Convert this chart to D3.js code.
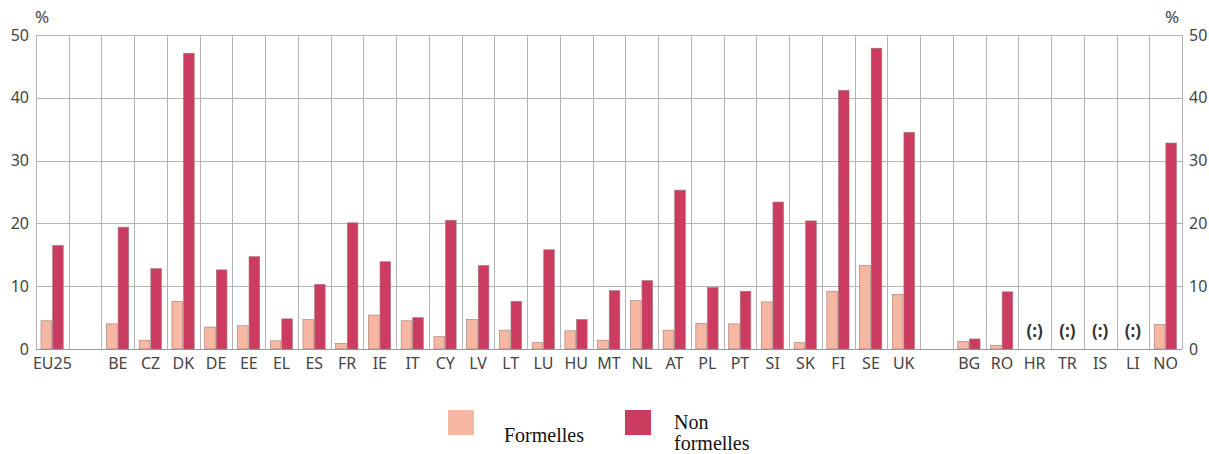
<!DOCTYPE html>
<html>
<head>
<meta charset="utf-8">
<script src="https://cdn.jsdelivr.net/npm/d3@7"></script>
<style>
  body { margin: 0; background: #fff; }
  svg { display: block; }
</style>
</head>
<body>
<div id="chart"></div>
<script>
// columns, with empty slots between the groups
var categories = ["EU25", "", "BE", "CZ", "DK", "DE", "EE", "EL", "ES", "FR", "IE", "IT", "CY", "LV", "LT", "LU",
                  "HU", "MT", "NL", "AT", "PL", "PT", "SI", "SK", "FI", "SE", "UK", " ",
                  "BG", "RO", "HR", "TR", "IS", "LI", "NO"];

var formelles = [4.5, null, 4.0, 1.4, 7.6, 3.5, 3.7, 1.3, 4.7, 0.9, 5.4, 4.5, 2.0, 4.7, 3.0, 1.0,
                 2.9, 1.4, 7.7, 3.0, 4.1, 4.0, 7.5, 1.0, 9.2, 13.3, 8.7, null,
                 1.2, 0.6, null, null, null, null, 3.9];

var nonFormelles = [16.5, null, 19.4, 12.8, 47.1, 12.6, 14.7, 4.8, 10.3, 20.1, 13.9, 5.0, 20.5, 13.3, 7.6, 15.8,
                    4.7, 9.3, 10.9, 25.3, 9.8, 9.2, 23.4, 20.4, 41.2, 47.9, 34.5, null,
                    1.6, 9.1, null, null, null, null, 32.8];

var missing = ["HR", "TR", "IS", "LI"];
var yTicks = [0, 10, 20, 30, 40, 50];

var series = [
  { name: "Formelles", values: formelles, color: "#f6b8a2" },
  { name: "Non formelles", values: nonFormelles, color: "#cc3c61" }
];

var width = 1209, height = 454;
var margin = { top: 35, right: 27, bottom: 105, left: 36 };

var svg = d3.select("#chart").append("svg")
  .attr("width", width)
  .attr("height", height);

var x = d3.scaleBand()
  .domain(d3.range(categories.length))
  .range([margin.left, width - margin.right]);

var xInner = d3.scaleBand()
  .domain(series.map(function (s) { return s.name; }))
  .range([5, x.bandwidth() - 5.5])
  .paddingInner(0.08);

var y = d3.scaleLinear()
  .domain([0, 50])
  .range([height - margin.bottom, margin.top]);

var grid = svg.append("g");

// horizontal grid
grid.selectAll("line.h")
  .data(yTicks)
  .enter().append("line")
  .attr("x1", margin.left)
  .attr("x2", width - margin.right)
  .attr("y1", function (d) { return Math.round(y(d)) + 0.5; })
  .attr("y2", function (d) { return Math.round(y(d)) + 0.5; })
  .attr("stroke", function (d) { return d === 0 ? "#999" : "#b4b4b4"; })
  .attr("stroke-width", 1);

// vertical grid at column edges
var edges = d3.range(categories.length + 1).map(function (i) {
  return margin.left + i * x.bandwidth();
});
grid.selectAll("line.v")
  .data(edges)
  .enter().append("line")
  .attr("x1", function (d) { return Math.round(d) + 0.5; })
  .attr("x2", function (d) { return Math.round(d) + 0.5; })
  .attr("y1", y(50))
  .attr("y2", y(0))
  .attr("stroke", "#b4b4b4")
  .attr("stroke-width", 1);

// bars
series.forEach(function (s) {
  svg.append("g").selectAll("rect")
    .data(s.values.map(function (v, i) { return { i: i, v: v }; })
      .filter(function (d) { return d.v !== null; }))
    .enter().append("rect")
    .attr("x", function (d) { return x(d.i) + xInner(s.name); })
    .attr("width", xInner.bandwidth())
    .attr("y", function (d) { return y(d.v); })
    .attr("height", function (d) { return y(0) - y(d.v); })
    .attr("fill", s.color)
    .attr("stroke", "#a07a78")
    .attr("stroke-width", 0.6);
});

var sans = "'Noto Sans', 'Open Sans', sans-serif";

// left and right axes
var yLeft = d3.axisLeft(y).tickValues(yTicks).tickSize(0).tickPadding(7);
var gl = svg.append("g").attr("transform", "translate(" + margin.left + ",0)").call(yLeft);
gl.select(".domain").remove();
gl.selectAll("text").attr("font-family", sans).attr("font-size", 16).attr("fill", "#444");

var yRight = d3.axisRight(y).tickValues(yTicks).tickSize(0).tickPadding(7);
var gr = svg.append("g").attr("transform", "translate(" + (width - margin.right) + ",0)").call(yRight);
gr.select(".domain").remove();
gr.selectAll("text").attr("font-family", sans).attr("font-size", 16).attr("fill", "#444");

svg.append("text").attr("x", 35).attr("y", 23).text("%")
  .attr("font-family", sans).attr("font-size", 17).attr("fill", "#444");
svg.append("text").attr("x", 1165).attr("y", 23).text("%")
  .attr("font-family", sans).attr("font-size", 17).attr("fill", "#444");

// category labels
var xAxis = d3.axisBottom(x).tickSize(0).tickPadding(9)
  .tickFormat(function (i) { return categories[i].trim(); });
var gx = svg.append("g").attr("transform", "translate(0," + y(0) + ")").call(xAxis);
gx.select(".domain").remove();
gx.selectAll("text").attr("font-family", sans).attr("font-size", 16).attr("fill", "#444");

// not available marks
svg.append("g").selectAll("text")
  .data(categories.map(function (c, i) { return { c: c, i: i }; })
    .filter(function (d) { return missing.indexOf(d.c) >= 0; }))
  .enter().append("text")
  .attr("x", function (d) { return x(d.i) + x.bandwidth() / 2; })
  .attr("y", y(0) - 12)
  .attr("text-anchor", "middle")
  .attr("font-family", sans)
  .attr("font-size", 17)
  .attr("font-weight", "bold")
  .attr("fill", "#333")
  .text("(:)");

// legend
var serif = "'Liberation Serif', 'Times New Roman', serif";
var legend = svg.append("g");
legend.append("rect").attr("x", 448).attr("y", 410).attr("width", 26).attr("height", 25).attr("fill", series[0].color);
legend.append("text").attr("x", 504).attr("y", 442).text("Formelles")
  .attr("font-family", serif).attr("font-size", 20).attr("fill", "#111");
legend.append("rect").attr("x", 625).attr("y", 410).attr("width", 26).attr("height", 25).attr("fill", series[1].color);
legend.append("text").attr("x", 674).attr("y", 429).text("Non")
  .attr("font-family", serif).attr("font-size", 20).attr("fill", "#111");
legend.append("text").attr("x", 674).attr("y", 450).text("formelles")
  .attr("font-family", serif).attr("font-size", 20).attr("fill", "#111");
</script>
</body>
</html>
